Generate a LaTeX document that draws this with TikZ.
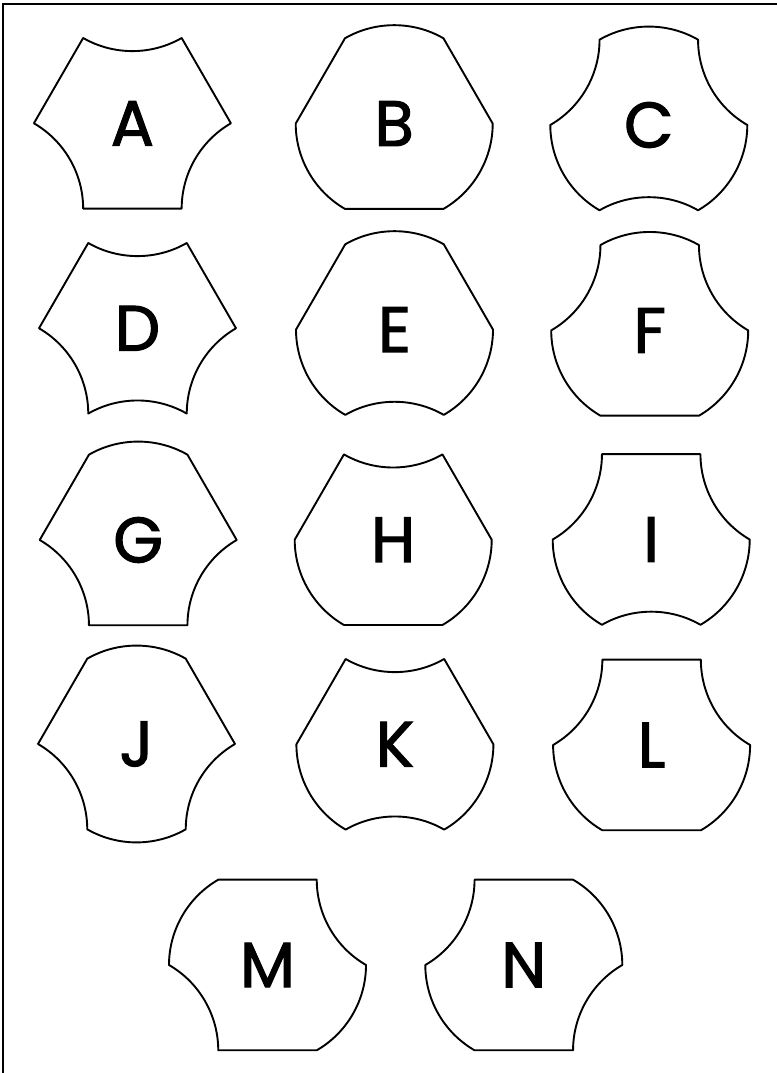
\documentclass[tikz,border=0pt]{standalone}
\usepackage{fontspec}
\usepackage{tikz}
\usetikzlibrary{positioning}
\newfontfamily\letterfont[FakeBold=1.8]{Poppins}

% one hexagonal tile: letter, centre x, centre y, then the six sides
% (top, upper right, lower right, bottom, lower left, upper left)
\newcommand{\piece}[9]{%
  \begin{scope}[shift={(#2,#3)}]
    \draw[tile] (-49.25,85.3) to[#4] (49.25,85.3) to[#5] (98.5,0)
      to[#6] (49.25,-85.3) to[#7] (-49.25,-85.3) to[#8] (-98.5,0) to[#9] cycle;
    \node[letter] (#1) at (0,0) {#1};
  \end{scope}}

\begin{document}
\begin{tikzpicture}[x=1pt,y=1pt,
  tile/.style={draw=black,line width=1.9pt,line join=round},
  str/.style={},
  cvx/.style={bend left=30,looseness=.91},
  ccv/.style={bend right=30,looseness=.91},
  letter/.style={font=\letterfont\fontsize{64}{64}\selectfont,inner sep=0pt},
  frame/.style={draw=black,line width=2.4pt}]
\useasboundingbox (0,0) rectangle (776,1073);
\draw[frame] (3,1069) rectangle (800,-20);

\piece{A}{132.4}{949.7}{ccv}{str}{ccv}{str}{ccv}{str}
\piece{B}{394.2}{949.4}{cvx}{str}{cvx}{str}{cvx}{str}
\piece{C}{648.8}{948.0}{cvx}{ccv}{cvx}{ccv}{cvx}{ccv}

\piece{D}{137.5}{744.7}{ccv}{str}{ccv}{ccv}{ccv}{str}
\piece{E}{394.5}{743.4}{cvx}{str}{cvx}{ccv}{cvx}{str}
\piece{F}{649.7}{742.6}{cvx}{ccv}{cvx}{str}{cvx}{ccv}

\piece{G}{138.2}{533.0}{cvx}{str}{ccv}{str}{ccv}{str}
\piece{H}{393.2}{533.3}{ccv}{str}{cvx}{str}{cvx}{str}
\piece{I}{651.2}{533.5}{str}{ccv}{cvx}{ccv}{cvx}{ccv}

\piece{J}{136.5}{329.0}{cvx}{str}{ccv}{cvx}{ccv}{str}
\piece{K}{394.9}{328.7}{ccv}{str}{cvx}{ccv}{cvx}{str}
\piece{L}{651.6}{328.0}{str}{ccv}{cvx}{str}{cvx}{ccv}

\piece{M}{267.5}{108.0}{str}{ccv}{cvx}{str}{ccv}{cvx}
\piece{N}{523.8}{108.0}{str}{cvx}{ccv}{str}{cvx}{ccv}
\end{tikzpicture}
\end{document}
